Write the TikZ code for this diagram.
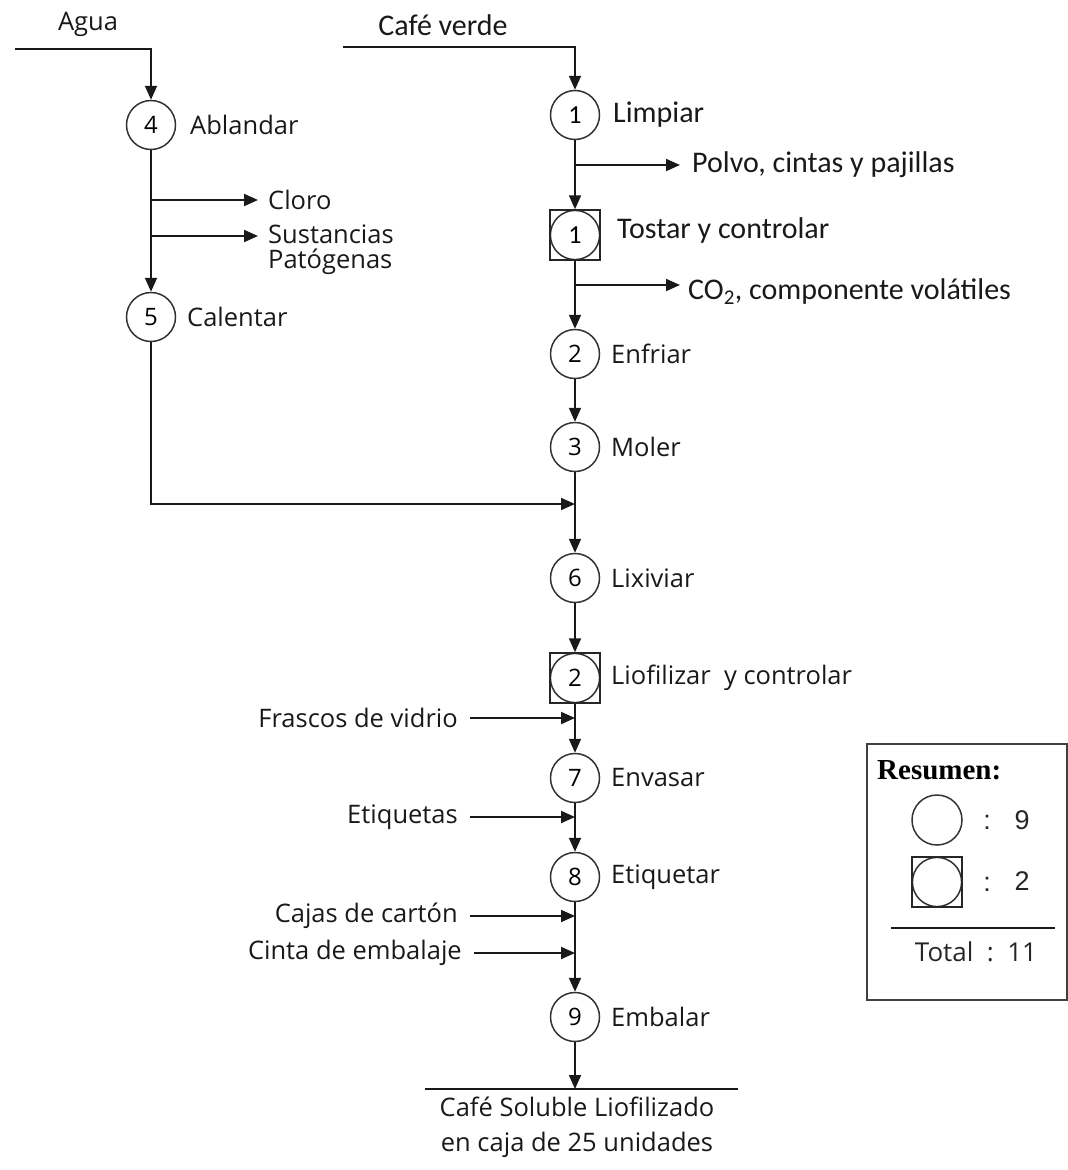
\documentclass[tikz,border=0pt]{standalone}
\usepackage{fontspec}
\setmainfont{Open Sans}
\newfontfamily\calfont{Carlito}
\newfontfamily\tnrfont{Liberation Serif}
\newfontfamily\arifont{Liberation Sans}
\usetikzlibrary{arrows.meta}
\begin{document}
\begin{tikzpicture}[x=1pt,y=-1pt,
  line/.style={line width=2pt,draw=black!90},
  arr/.style={line, -{Triangle[length=14pt,width=12pt]}},
  proc/.style={circle,draw=black!80,line width=1.5pt,minimum size=49pt,inner sep=0pt,font=\fontsize{24}{26}\selectfont},
  insp/.style={rectangle,draw=black!85,line width=1.5pt,minimum size=50pt,inner sep=0pt,font=\fontsize{24}{26}\selectfont,
     path picture={\draw[line width=1.5pt,black!80] (path picture bounding box.center) circle (24.6pt);}},
  lab/.style={anchor=west,inner sep=0pt,font=\fontsize{25.5}{29}\selectfont,text=black!90},
  clab/.style={anchor=west,inner sep=0pt,font=\calfont\fontsize{30}{34}\selectfont,text=black!90},
  inlab/.style={anchor=east,inner sep=0pt,font=\fontsize{25.5}{29}\selectfont,text=black!90}
]
\useasboundingbox (0,0) rectangle (1068,1170);

% ---------- left column ----------
\node[lab,anchor=center] (agua) at (88,24) {Agua};
\coordinate (a0) at (15,49);
\node[proc] (c4) at (151,125) {4};
\node[lab] (l4) at (190,125) {Ablandar};
\node[lab] (cloro) at (268,200) {Cloro};
\node[lab,anchor=north west,align=left,font=\fontsize{25.5}{25}\selectfont] (sust) at (268,225) {Sustancias\\Patógenas};
\coordinate (e1) at (258,200);
\coordinate (e2) at (258,236);
\node[proc] (c5) at (151,317) {5};
\node[lab] (l5) at (187,317) {Calentar};

\draw[arr] (a0) -- (c4|-a0) -- (c4);
\draw[arr] (c4) -- (c5);
\draw[arr] (c4|-e1) -- (e1);
\draw[arr] (c4|-e2) -- (e2);

% ---------- right column ----------
\node[clab,anchor=center] (cafe) at (443,25) {Café verde};
\coordinate (b0) at (343,47);
\node[proc,font=\calfont\fontsize{26}{28}\selectfont] (c1) at (575,115) {1};
\node[clab] (l1) at (613,115) {Limpiar};
\coordinate (e3) at (680,165);
\node[clab] (polvo) at (692,165) {Polvo, cintas y pajillas};
\node[insp,font=\calfont\fontsize{26}{28}\selectfont] (t1) at (575,235) {1};
\node[clab] (lt1) at (617,230) {Tostar y controlar};
\coordinate (e4) at (680,285);
\node[clab] (co2) at (688,292) {CO\textsubscript{2}, componente volátiles};
\node[proc] (c2) at (575,354) {2};
\node[lab] (l2) at (611,354) {Enfriar};
\node[proc] (c3) at (575,447) {3};
\node[lab] (l3) at (611,447) {Moler};
\coordinate (m) at (575,504);
\node[proc] (c6) at (575,578) {6};
\node[lab] (l6) at (611,578) {Lixiviar};
\node[insp] (t2) at (575,678) {2};
\node[lab] (lt2) at (611,678) {Liofilizar\ \ y controlar};
\node[inlab] (fr) at (458,718) {Frascos de vidrio};
\node[proc] (c7) at (575,778) {7};
\node[lab] (l7) at (611,778) {Envasar};
\node[inlab] (et) at (458,817) {Etiquetas};
\node[proc] (c8) at (575,877) {8};
\node[lab] (l8) at (611,877) {Etiquetar};
\node[inlab] (cj) at (458,916) {Cajas de cartón};
\node[inlab] (ci) at (462,953) {Cinta de embalaje};
\node[proc] (c9) at (575,1017) {9};
\node[lab] (l9) at (611,1017) {Embalar};
\coordinate (bl1) at (425,1089);
\coordinate (bl2) at (738,1089);
\node[lab,anchor=north,align=center,font=\fontsize{25.5}{35}\selectfont] (prod) at (577,1097) {Café Soluble Liofilizado\\en caja de 25 unidades};

\draw[arr] (b0) -- (c1|-b0) -- (c1);
\draw[arr] (c1) -- (t1);
\draw[arr] (c1|-e3) -- (e3);
\draw[arr] (t1) -- (c2);
\draw[arr] (t1|-e4) -- (e4);
\draw[arr] (c2) -- (c3);
\draw[arr] (c3) -- (c6);
\draw[arr] (c5) -- (c5|-m) -- (m);
\draw[arr] (c6) -- (t2);
\draw[arr] (t2) -- (c7);
\draw[arr] ([xshift=12pt]fr.east) -- (c7|-fr.east);
\draw[arr] (c7) -- (c8);
\draw[arr] ([xshift=12pt]et.east) -- (c8|-et.east);
\draw[arr] (c8) -- (c9);
\draw[arr] ([xshift=12pt]cj.east) -- (c9|-cj.east);
\draw[arr] ([xshift=12pt]ci.east) -- (c9|-ci.east);
\draw[arr] (c9) -- (c9|-bl1);
\draw[line] (bl1) -- (bl2);

% ---------- legend ----------
\node[draw=black!75,line width=1.6pt,anchor=north west,minimum width=200pt,minimum height=256pt,inner sep=0pt] (leg) at (866,743) {};
\node[anchor=west,inner sep=0pt,font=\tnrfont\bfseries\fontsize{29}{32}\selectfont] (res) at (877,770) {Resumen:};
\node[proc,minimum size=50pt] (lc) at (937,820) {};
\node[insp] (ls) at (937,882) {};
\node[inner sep=0pt,font=\arifont\fontsize{27}{30}\selectfont,text=black!85] (col1) at (987,822) {:};
\node[inner sep=0pt,font=\arifont\fontsize{27}{30}\selectfont,text=black!85] (n9) at (1022,820) {9};
\node[inner sep=0pt,font=\arifont\fontsize{27}{30}\selectfont,text=black!85] (col2) at (987,884) {:};
\node[inner sep=0pt,font=\arifont\fontsize{27}{30}\selectfont,text=black!85] (n2) at (1022,881) {2};
\coordinate (lg1) at (891,928);
\coordinate (lg2) at (1055,928);
\draw[line] (lg1) -- (lg2);
\node[inner sep=0pt,font=\fontsize{26}{30}\selectfont,text=black!85] (tot) at (976,952) {Total\ \ :\ \ 11};
\end{tikzpicture}
\end{document}
